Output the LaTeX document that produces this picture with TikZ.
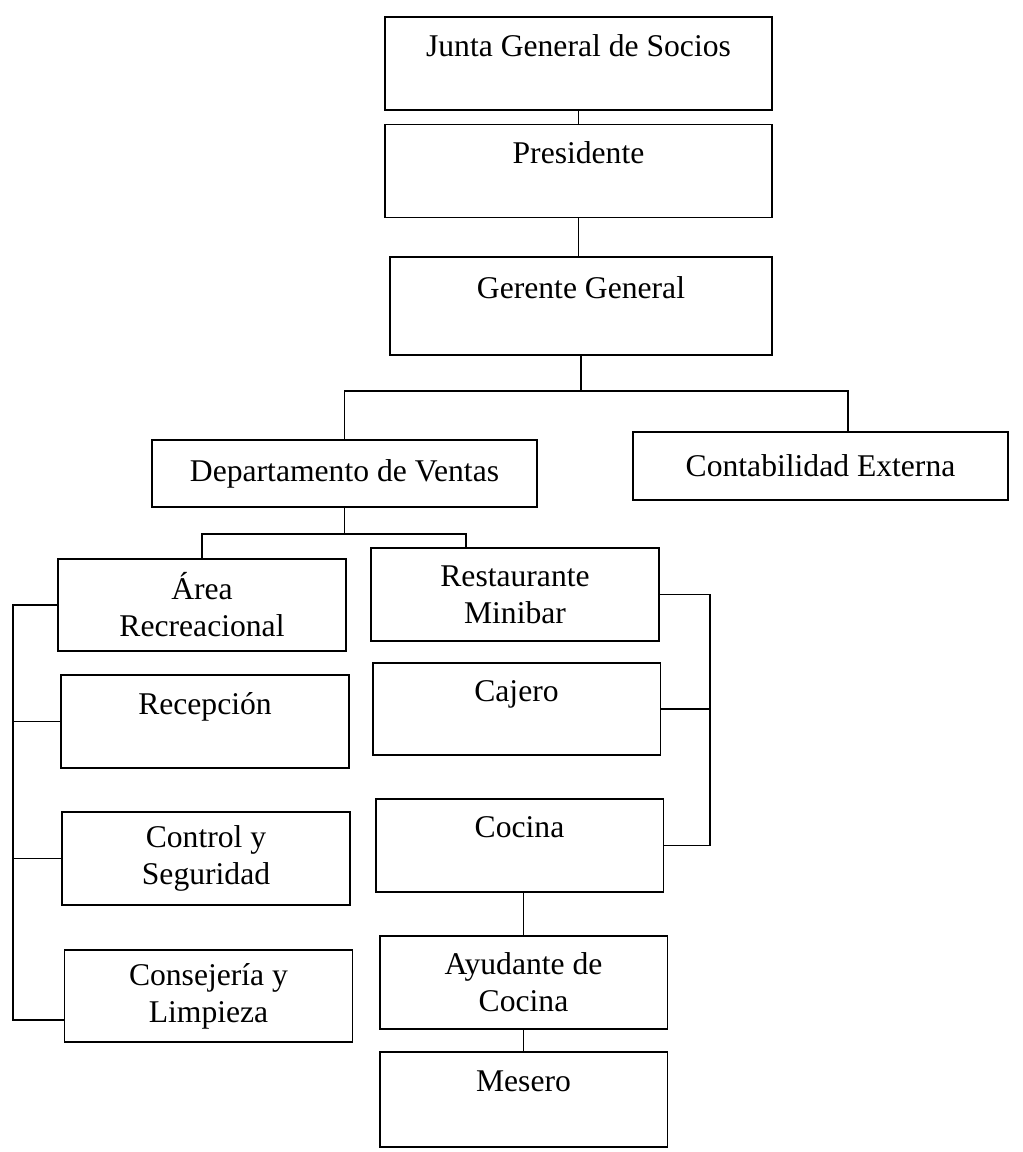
\documentclass[tikz,border=0pt]{standalone}
\usepackage{fontspec}
\setmainfont{Liberation Serif}
\usepackage{tikz}
\usetikzlibrary{calc,positioning}
\tikzstyle{box}=[draw,rectangle,line width=1.1pt,align=center,inner sep=0pt,font=\fontsize{18}{21}\selectfont]
\tikzstyle{top}=[box,minimum width=7.74cm,minimum height=1.86cm]
\tikzstyle{sub}=[box,minimum width=5.76cm,minimum height=1.85cm]
\tikzstyle{link}=[line width=1.1pt]

\begin{document}
\begin{tikzpicture}[x=0.02cm,y=-0.02cm]
  \useasboundingbox (0,0) rectangle (1022,1152);
  \node[top] (n1)  at (578.5,63.5)  {Junta General de Socios\\~};
  \node[top] (n2)  at (578.5,171)   {Presidente\\~};
  \node[top,minimum width=7.64cm,minimum height=1.96cm] (n3) at (581,306) {Gerente General\\~};
  \node[box,minimum width=7.7cm,minimum height=1.34cm] (n4) at (344.5,473.5) {Departamento de Ventas};
  \node[box,minimum width=7.5cm,minimum height=1.36cm] (n5) at (820.5,466) {Contabilidad Externa};
  \node[sub] (n6)  at (202,605)     {Área\\Recreacional};
  \node[sub] (n7)  at (515,594.5)   {Restaurante\\Minibar};
  \node[sub] (n8)  at (205,721.5)   {Recepción\\~};
  \node[sub] (n9)  at (516.5,709)   {Cajero\\~};
  \node[sub] (n10) at (206,858.5)   {Control y\\Seguridad};
  \node[sub] (n11) at (519.5,845.5) {Cocina\\~};
  \node[sub] (n12) at (208.5,996)   {Consejería y\\Limpieza};
  \node[sub] (n13) at (523.5,982.5) {Ayudante de\\Cocina};
  \node[sub,minimum height=1.9cm] (n14) at (523.5,1099.5) {Mesero\\~};
  \coordinate (lb) at (13,0);
  \coordinate (rb) at (710,0);
  \coordinate (n5t) at ([xshift=0.55cm]n5.north);
  \coordinate (n7t) at ([xshift=-0.98cm]n7.north);
  \coordinate (n12w) at ([yshift=-0.48cm]n12.west);

  \draw[link] (n1) -- (n2);
  \draw[link] (n2.south) -- (n2.south |- n3.north);
  \draw[link] (n3.south) -- ++(0,35) coordinate (g);
  \draw[link] (n4.north) |- (g) -| (n5t);
  \draw[link] (n4.south) -- ++(0,26) coordinate (d);
  \draw[link] (n6.north) |- (d) -| (n7t);

  \draw[link] (n6.west) -- (n6.west -| lb) -- (lb |- n12w) -- (n12w);
  \draw[link] (n7.east) -- (n7.east -| rb) -- (rb |- n11.east) -- (n11.east);
  \foreach \n in {n8,n10}
      \draw[link] (\n.west) -- (\n.west -| lb);
  \draw[link] (n9.east) -- (n9.east -| rb);

  \draw[link] (n13.north |- n11.south) -- (n13.north);
  \draw[link] (n13) -- (n14);
\end{tikzpicture}
\end{document}
